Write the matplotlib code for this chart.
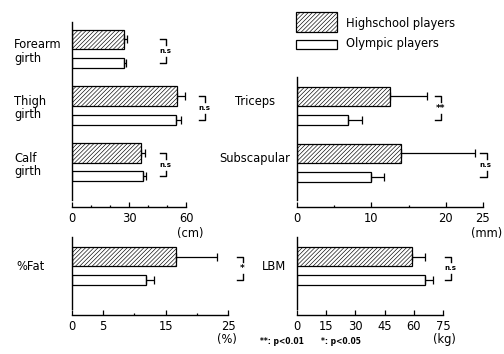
import matplotlib
matplotlib.use('Agg')
import matplotlib.pyplot as plt
from matplotlib.patches import Rectangle
from matplotlib.transforms import blended_transform_factory
import numpy as np

# girth (cm)
girth_labels = ['Forearm\ngirth', 'Thigh\ngirth', 'Calf\ngirth']
girth_hs = [27.4, 55.3, 36.3]
girth_hs_sd = [1.6, 4.2, 2.1]
girth_ol = [27.4, 54.7, 37.4]
girth_ol_sd = [1.0, 2.6, 1.6]
girth_sig = ['n.s', 'n.s', 'n.s']

# skinfolds (mm)
skin_labels = ['Triceps', 'Subscapular']
skin_hs = [12.5, 14.0]
skin_hs_sd = [5.0, 9.9]
skin_ol = [6.9, 9.9]
skin_ol_sd = [1.8, 1.8]
skin_sig = ['**', 'n.s']

# %Fat (%)
fat_labels = ['%Fat']
fat_hs = [16.7]
fat_hs_sd = [6.5]
fat_ol = [11.8]
fat_ol_sd = [1.3]
fat_sig = ['*']

# LBM (kg)
lbm_labels = ['LBM']
lbm_hs = [59.0]
lbm_hs_sd = [7.0]
lbm_ol = [66.0]
lbm_ol_sd = [4.0]
lbm_sig = ['n.s']

W, H = 504, 354
FS = 8.3
HATCH = '////////'
plt.rcParams['hatch.linewidth'] = 0.45

fig = plt.figure(figsize=(W / 100, H / 100), dpi=100)


def px_axes(x0, y0, x1, y1):
    return fig.add_axes([x0 / W, 1 - y1 / H, (x1 - x0) / W, (y1 - y0) / H])


OFF = 0.41  # offset of olympic bar below highschool bar


def panel(ax, hs, hs_sd, ol, ol_sd, sig, xmax, ticks, labels, minor, unit, unit_pos,
          ylim, brk_x, spine_gap=0.12):
    n = len(hs)
    y = np.arange(n)
    ax.barh(y, hs, height=0.35, color='white', edgecolor='black', hatch=HATCH, lw=0.9)
    ax.barh(y + OFF, ol, height=0.175, color='white', edgecolor='black', lw=0.9)
    ax.errorbar(hs, y, xerr=[np.zeros(n), hs_sd], fmt='none', ecolor='black',
                elinewidth=0.9, capsize=3, capthick=0.9)
    ax.errorbar(ol, y + OFF, xerr=[np.zeros(n), ol_sd], fmt='none', ecolor='black',
                elinewidth=0.9, capsize=3, capthick=0.9)
    ax.set_xlim(0, xmax)
    ax.set_ylim(ylim)
    for s in ['top', 'right']:
        ax.spines[s].set_visible(False)
    ax.spines['left'].set_bounds(ylim[1], ylim[0] - spine_gap)
    ax.spines['left'].set_linewidth(1.0)
    ax.spines['bottom'].set_linewidth(1.0)
    ax.set_yticks([])
    ax.set_xticks(ticks)
    ax.set_xticklabels(labels, fontsize=FS)
    ax.set_xticks(minor, minor=True)
    ax.tick_params(axis='x', which='major', direction='in', length=3.5, pad=3.5, width=0.9)
    ax.tick_params(axis='x', which='minor', direction='in', length=1.8, width=0.9)
    fig.text(unit_pos[0] / W, 1 - unit_pos[1] / H, unit, fontsize=FS, ha='center', va='center')

    # significance brackets
    pw = ax.get_position().width * W
    dx = 6.5 / pw * xmax
    for i in range(n):
        bx = brk_x[i]
        y0, y1 = i, i + OFF
        ax.plot([bx, bx + dx, bx + dx], [y0, y0, y0 + 0.1], color='black', lw=1.0, clip_on=False)
        ax.plot([bx, bx + dx, bx + dx], [y1, y1, y1 - 0.1], color='black', lw=1.0, clip_on=False)
        fs = 5 if sig[i] == 'n.s' else 6.5
        ax.text(bx + dx * 0.9, (y0 + y1) / 2, sig[i], fontsize=fs, ha='center', va='center',
                fontweight='bold')


def cat_labels(ax, labels, xpx, dy, ha='left'):
    tr = blended_transform_factory(fig.transFigure, ax.transData)
    for i, lab in enumerate(labels):
        ax.text(xpx / W, i + dy, lab, transform=tr, fontsize=FS, ha=ha, va='center',
                linespacing=1.05)


ax1 = px_axes(72, 22, 186, 207)
panel(ax1, girth_hs, girth_hs_sd, girth_ol, girth_ol_sd, girth_sig, 60,
      [0, 30, 60], ['0', '30', '60'], [10, 20, 40, 50], '(cm)', (190, 233),
      (2.947, -0.307), [46.3, 66.8, 46.3])
cat_labels(ax1, girth_labels, 14, 0.21)

ax2 = px_axes(297, 77, 483, 207)
panel(ax2, skin_hs, skin_hs_sd, skin_ol, skin_ol_sd, skin_sig, 25,
      [0, 10, 20, 25], ['0', '10', '20', '25'], [5, 15], '(mm)', (487, 233),
      (1.939, -0.342), [18.5, 24.6])
cat_labels(ax2, skin_labels, 255, 0.09, ha='center')

ax3 = px_axes(72, 237, 228, 315)
panel(ax3, fat_hs, fat_hs_sd, fat_ol, fat_ol_sd, fat_sig, 25,
      [0, 5, 15, 25], ['0', '5', '15', '25'], [10, 20], '(%)', (227, 339),
      (1.026, -0.342), [26.4], spine_gap=0.1)
cat_labels(ax3, fat_labels, 16, 0.18)

ax4 = px_axes(297, 237, 443, 315)
panel(ax4, lbm_hs, lbm_hs_sd, lbm_ol, lbm_ol_sd, lbm_sig, 75,
      [0, 15, 30, 45, 60, 75], ['0', '15', '30', '45', '60', '75'], [], '(kg)', (444, 339),
      (1.026, -0.342), [76.0], spine_gap=0.1)
cat_labels(ax4, lbm_labels, 262, 0.18)

# legend
fig.add_artist(Rectangle((296 / W, 1 - 32 / H), 41 / W, 20 / H, transform=fig.transFigure,
                         facecolor='white', edgecolor='black', hatch=HATCH, lw=0.9))
fig.add_artist(Rectangle((296 / W, 1 - 49 / H), 41 / W, 9 / H, transform=fig.transFigure,
                         facecolor='white', edgecolor='black', lw=0.9))
fig.text(346 / W, 1 - 24 / H, 'Highschool players', fontsize=FS, va='center')
fig.text(346 / W, 1 - 44 / H, 'Olympic players', fontsize=FS, va='center')

# footnote
fig.text(260 / W, 1 - 341 / H, '**: p<0.01', fontsize=5.5, va='center', fontweight='bold')
fig.text(321 / W, 1 - 341 / H, '*: p<0.05', fontsize=5.5, va='center', fontweight='bold')

fig.savefig('out.png', dpi=100)
